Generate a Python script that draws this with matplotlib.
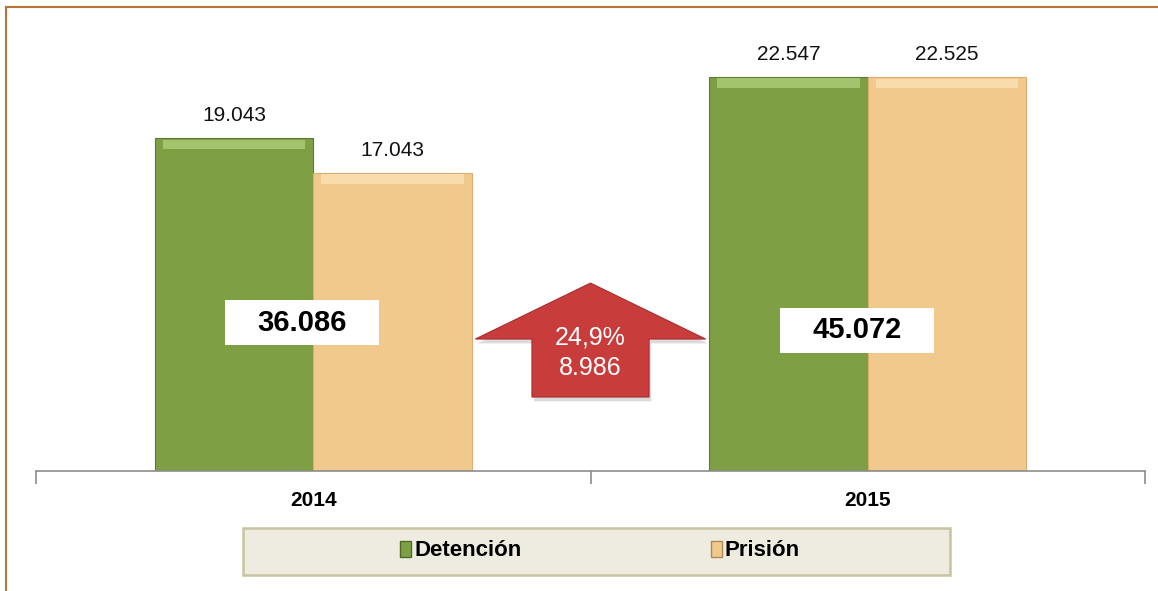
import matplotlib.pyplot as plt
from matplotlib.patches import Polygon, Rectangle, Patch
from matplotlib.lines import Line2D

years = ["2014", "2015"]
detencion = [19043, 22547]
prision = [17043, 22525]
totales = ["36.086", "45.072"]
variacion_pct = "24,9%"
variacion_abs = "8.986"

GREEN = "#7F9F45"
GREEN_HI = "#A3C36C"
TAN = "#F2C98C"
TAN_HI = "#F8DCAC"

plt.rcParams["font.family"] = ["Liberation Sans", "DejaVu Sans"]
NARROW = ["Liberation Sans Narrow", "Liberation Sans", "DejaVu Sans"]

fig = plt.figure(figsize=(11.58, 5.91), dpi=100)
ax = fig.add_axes([36 / 1158, 120 / 591, 1109 / 1158, 437 / 591])
ax.set_xlim(-0.5, 1.5)
ax.set_ylim(0, 25000)

w = 0.286
x = list(range(len(years)))
xd = [i - w / 2 for i in x]
xp = [i + w / 2 for i in x]

ax.bar(xd, detencion, w, color=GREEN, edgecolor="#5E7A30", linewidth=0.8, zorder=2)
ax.bar(xp, prision, w, color=TAN, edgecolor="#D9AE70", linewidth=0.8, zorder=2)
# bevel highlight on top of bars
hi = 550
ax.bar(xd, [hi] * 2, w * 0.9, bottom=[v - hi - 80 for v in detencion],
       color=GREEN_HI, linewidth=0, zorder=3)
ax.bar(xp, [hi] * 2, w * 0.9, bottom=[v - hi - 80 for v in prision],
       color=TAN_HI, linewidth=0, zorder=3)

for xi, v in zip(xd, detencion):
    ax.text(xi, v + 750, f"{v:,}".replace(",", "."), ha="center", va="bottom",
            fontsize=15, color="#111111")
for xi, v in zip(xp, prision):
    ax.text(xi, v + 750, f"{v:,}".replace(",", "."), ha="center", va="bottom",
            fontsize=15, color="#111111")

# total boxes
box_w, box_h = 0.278, 2573
for i, (t, yc) in enumerate(zip(totales, [8490, 8060])):
    cx = i - 0.02
    ax.add_patch(Rectangle((cx - box_w / 2, yc - box_h / 2), box_w, box_h,
                           facecolor="white", edgecolor="none", zorder=4))
    ax.text(cx, yc, t, ha="center", va="center", fontsize=21,
            fontweight="bold", color="black", zorder=5)

# variation arrow
ax_c = 0.5
head_w, shaft_w = 0.2076, 0.1056
tip, base, bottom = 10751, 7549, 4232
arrow = [(ax_c, tip), (ax_c + head_w, base), (ax_c + shaft_w, base),
         (ax_c + shaft_w, bottom), (ax_c - shaft_w, bottom),
         (ax_c - shaft_w, base), (ax_c - head_w, base)]
shadow = [(px + 0.004, py - 250) for px, py in arrow]
ax.add_patch(Polygon(shadow, closed=True, facecolor="#999999", alpha=0.35,
                     edgecolor="none", zorder=3))
ax.add_patch(Polygon(arrow, closed=True, facecolor="#C83C3C",
                     edgecolor="#A82E2E", linewidth=0.8, zorder=4))
ax.text(ax_c, 7650, variacion_pct, ha="center", va="center", fontsize=18,
        color="white", zorder=5)
ax.text(ax_c, 5900, variacion_abs, ha="center", va="center", fontsize=18,
        color="white", zorder=5)

# axes styling
for s in ["top", "right", "left"]:
    ax.spines[s].set_visible(False)
ax.spines["bottom"].set_color("#8C8C8C")
ax.spines["bottom"].set_linewidth(1.2)
ax.set_yticks([])
ax.set_xticks([-0.5, 0.5, 1.5])
ax.set_xticklabels([])
ax.tick_params(axis="x", direction="out", length=9, color="#8C8C8C", width=1.2)
for i, y in enumerate(years):
    ax.text(i, -1700, y, ha="center", va="center", fontsize=15,
            fontweight="bold", family=NARROW)

# outer frame (top and left)
fig.add_artist(Line2D([6 / 1158, 6 / 1158], [0, 1 - 7 / 591],
                      transform=fig.transFigure, color="#B87436", linewidth=1.5))
fig.add_artist(Line2D([6 / 1158, 1], [1 - 7 / 591, 1 - 7 / 591],
                      transform=fig.transFigure, color="#B87436", linewidth=1.5))

# legend
fig.add_artist(Rectangle((243 / 1158, 16 / 591), 707 / 1158, 47 / 591,
                         transform=fig.transFigure, facecolor="#EEEBE0",
                         edgecolor="#C9C2A0", linewidth=1.8))
handles = [Patch(facecolor=GREEN, edgecolor="#4E6A25", label="Detención"),
           Patch(facecolor=TAN, edgecolor="#B08858", label="Prisión")]
fig.legend(handles=handles, loc="center", bbox_to_anchor=(600 / 1158, 40 / 591),
           ncol=2, frameon=False, handlelength=0.5, handleheight=0.75,
           handletextpad=0.15, columnspacing=8.5,
           prop={"family": NARROW, "weight": "bold", "size": 16})

fig.savefig("out.png", dpi=100)
